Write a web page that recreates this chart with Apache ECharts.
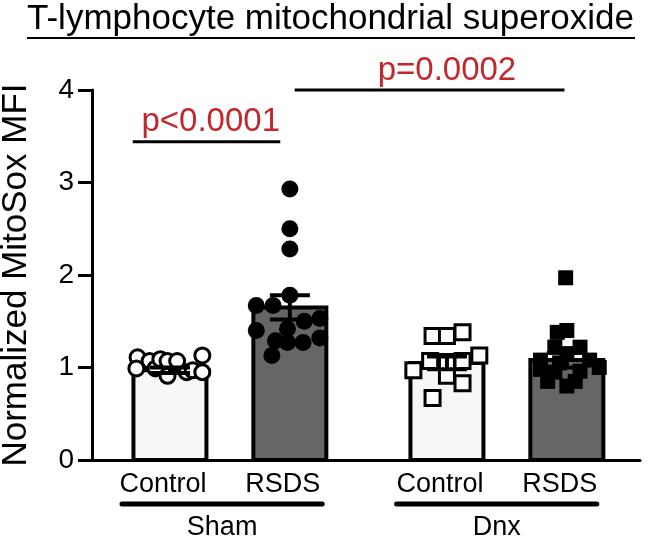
<!DOCTYPE html>
<html>
<head>
<meta charset="utf-8">
<script src="https://cdn.jsdelivr.net/npm/echarts@6/dist/echarts.min.js"></script>
<style>
  html, body { margin: 0; padding: 0; background: #fff; }
  #chart { width: 648px; height: 539px; }
</style>
</head>
<body>
<div id="chart"></div>
<script>
// groups and bars
var groupNames = ["Sham", "Dnx"];
var groupCenters = [1.5, 3.81];
var groupSpan = [[0.6, 2.27], [2.89, 4.56]];
var barLabels = ["Control", "RSDS", "Control", "RSDS"];
var barX = [1, 2, 3.31, 4.31];
var means = [0.97, 1.65, 1.05, 1.08];
var sems = [0.03, 0.13, 0.07, 0.08];
var barFills = ["#f7f7f7", "#666666", "#f7f7f7", "#666666"];

// individual points: values + horizontal jitter (axis units)
var shamControl = [1.11, 0.99, 1.07, 0.99, 1.09, 1.07, 0.91, 1.07, 0.95, 0.97, 1.13, 0.95];
var shamControlJit = [-0.27, -0.28, -0.17, -0.12, -0.08, -0.02, -0.02, 0.06, 0.14, 0.19, 0.27, 0.27];
var shamRsds = [2.93, 2.50, 2.28, 1.78, 1.67, 1.67, 1.50, 1.53, 1.40, 1.42, 1.32, 1.29, 1.27, 1.27, 1.13];
var shamRsdsJit = [0, 0, 0, 0, -0.28, -0.14, 0.12, 0.25, -0.28, -0.02, 0.25, -0.12, -0.02, 0.11, -0.15];
var dnxControl = [1.34, 1.34, 1.38, 1.13, 0.97, 0.91, 0.83, 0.67, 1.07, 1.06, 1.07];
var dnxControlJit = [-0.12, 0, 0.13, 0.27, -0.28, 0, 0.13, -0.12, -0.14, 0, 0.13];
var dnxRsds = [1.97, 1.40, 1.38, 1.22, 1.22, 1.15, 1.08, 1.05, 1.08, 0.98, 0.95, 0.96, 1.0, 0.85, 0.85, 0.80];
var dnxRsdsJit = [-0.01, 0, -0.08, -0.1, 0.11, 0, -0.22, -0.06, 0.19, -0.22, -0.1, 0.11, 0.27, -0.16, 0.07, 0];

// significance brackets: [x1, x2, y, text, text x]
var sigLines = [
  [0.69, 1.92, 3.44, "p<0.0001", 1.34],
  [2.04, 4.29, 4.0, "p=0.0002", 3.31]
];

var FONT = "Liberation Sans, Arial, sans-serif";

function pts(vals, jit, cx) {
  return vals.map(function (v, i) { return [cx + jit[i], v]; });
}

var chart = echarts.init(document.getElementById("chart"));

chart.setOption({
  animation: false,
  backgroundColor: "#fff",
  grid: { left: 92, right: 8, top: 90, bottom: 79, containLabel: false, outerBoundsMode: "none" },
  xAxis: {
    type: "value",
    min: 0.35,
    max: 4.92,
    axisLine: { show: true, onZero: false, lineStyle: { color: "#000", width: 3 } },
    axisTick: { show: false },
    axisLabel: { show: false },
    splitLine: { show: false }
  },
  yAxis: {
    type: "value",
    min: 0,
    max: 4,
    interval: 1,
    name: "Normalized MitoSox MFI",
    nameLocation: "middle",
    nameRotate: 90,
    nameGap: 58,
    nameTextStyle: { fontFamily: FONT, fontSize: 35, color: "#000" },
    axisLine: { show: true, lineStyle: { color: "#000", width: 3 } },
    axisTick: { show: true, length: 14, lineStyle: { color: "#000", width: 3 } },
    axisLabel: { fontFamily: FONT, fontSize: 28, color: "#000", margin: 18 },
    splitLine: { show: false }
  },
  graphic: [
    {
      type: "text",
      left: 27,
      top: 2,
      style: { text: "T-lymphocyte mitochondrial superoxide", font: "35px " + FONT, fill: "#000" }
    },
    {
      type: "line",
      shape: { x1: 27, y1: 38, x2: 635, y2: 38 },
      style: { stroke: "#000", lineWidth: 2 }
    }
  ],
  series: [
    {
      type: "custom",
      name: "bars",
      z: 1,
      clip: false,
      data: barX.map(function (x, i) { return [x, means[i], i]; }),
      renderItem: function (params, api) {
        var top = api.coord([api.value(0), api.value(1)]);
        var base = api.coord([api.value(0), 0]);
        var w = 73;
        return {
          type: "rect",
          shape: { x: top[0] - w / 2, y: top[1], width: w, height: base[1] - top[1] },
          style: { fill: barFills[api.value(2)], stroke: "#000", lineWidth: 4 }
        };
      }
    },
    {
      type: "scatter",
      z: 3,
      symbol: "circle",
      symbolSize: 15,
      itemStyle: { color: "#fff", borderColor: "#000", borderWidth: 3, opacity: 1 },
      data: pts(shamControl, shamControlJit, barX[0])
    },
    {
      type: "scatter",
      z: 3,
      symbol: "circle",
      symbolSize: 17,
      itemStyle: { color: "#000", opacity: 1 },
      data: pts(shamRsds, shamRsdsJit, barX[1])
    },
    {
      type: "scatter",
      z: 3,
      symbol: "rect",
      symbolSize: 15,
      itemStyle: { color: "#fff", borderColor: "#000", borderWidth: 3, opacity: 1 },
      data: pts(dnxControl, dnxControlJit, barX[2])
    },
    {
      type: "scatter",
      z: 3,
      symbol: "rect",
      symbolSize: 15,
      itemStyle: { color: "#000", opacity: 1 },
      data: pts(dnxRsds, dnxRsdsJit, barX[3])
    },
    {
      type: "custom",
      name: "error",
      z: 4,
      clip: false,
      data: barX.map(function (x, i) { return [x, means[i], sems[i]]; }),
      renderItem: function (params, api) {
        var x = api.value(0), m = api.value(1), s = api.value(2);
        var hi = api.coord([x, m + s]);
        var lo = api.coord([x, m - s]);
        var cap = 20;
        var st = { stroke: "#000", lineWidth: 4 };
        return {
          type: "group",
          children: [
            { type: "line", shape: { x1: hi[0], y1: hi[1], x2: lo[0], y2: lo[1] }, style: st },
            { type: "line", shape: { x1: hi[0] - cap, y1: hi[1], x2: hi[0] + cap, y2: hi[1] }, style: st },
            { type: "line", shape: { x1: lo[0] - cap, y1: lo[1], x2: lo[0] + cap, y2: lo[1] }, style: st }
          ]
        };
      }
    },
    {
      type: "custom",
      name: "sig",
      z: 5,
      clip: false,
      data: sigLines,
      renderItem: function (params, api) {
        var d = sigLines[params.dataIndex];
        var a = api.coord([d[0], d[2]]);
        var b = api.coord([d[1], d[2]]);
        var t = api.coord([d[4], d[2]]);
        return {
          type: "group",
          children: [
            { type: "line", shape: { x1: a[0], y1: a[1], x2: b[0], y2: b[1] }, style: { stroke: "#000", lineWidth: 3 } },
            {
              type: "text",
              x: t[0],
              y: a[1] - 3,
              style: { text: d[3], font: "33px " + FONT, fill: "#c1272d", align: "center", verticalAlign: "bottom" }
            }
          ]
        };
      }
    },
    {
      type: "custom",
      name: "barLabels",
      z: 5,
      clip: false,
      data: barX.map(function (x, i) { return [x, 0, i]; }),
      renderItem: function (params, api) {
        var p = api.coord([api.value(0), 0]);
        return {
          type: "text",
          x: p[0] - 7,
          y: p[1] + 25,
          style: { text: barLabels[api.value(2)], font: "27px " + FONT, fill: "#000", align: "center", verticalAlign: "middle" }
        };
      }
    },
    {
      type: "custom",
      name: "groupLabels",
      z: 5,
      clip: false,
      data: groupCenters.map(function (x, i) { return [x, 0, i]; }),
      renderItem: function (params, api) {
        var i = api.value(2);
        var a = api.coord([groupSpan[i][0], 0]);
        var b = api.coord([groupSpan[i][1], 0]);
        var c = api.coord([api.value(0), 0]);
        return {
          type: "group",
          children: [
            { type: "line", shape: { x1: a[0], y1: a[1] + 44, x2: b[0], y2: b[1] + 44 }, style: { stroke: "#000", lineWidth: 5, lineCap: "round" } },
            {
              type: "text",
              x: (a[0] + b[0]) / 2,
              y: c[1] + 68,
              style: { text: groupNames[i], font: "27px " + FONT, fill: "#000", align: "center", verticalAlign: "middle" }
            }
          ]
        };
      }
    }
  ]
});
</script>
</body>
</html>
